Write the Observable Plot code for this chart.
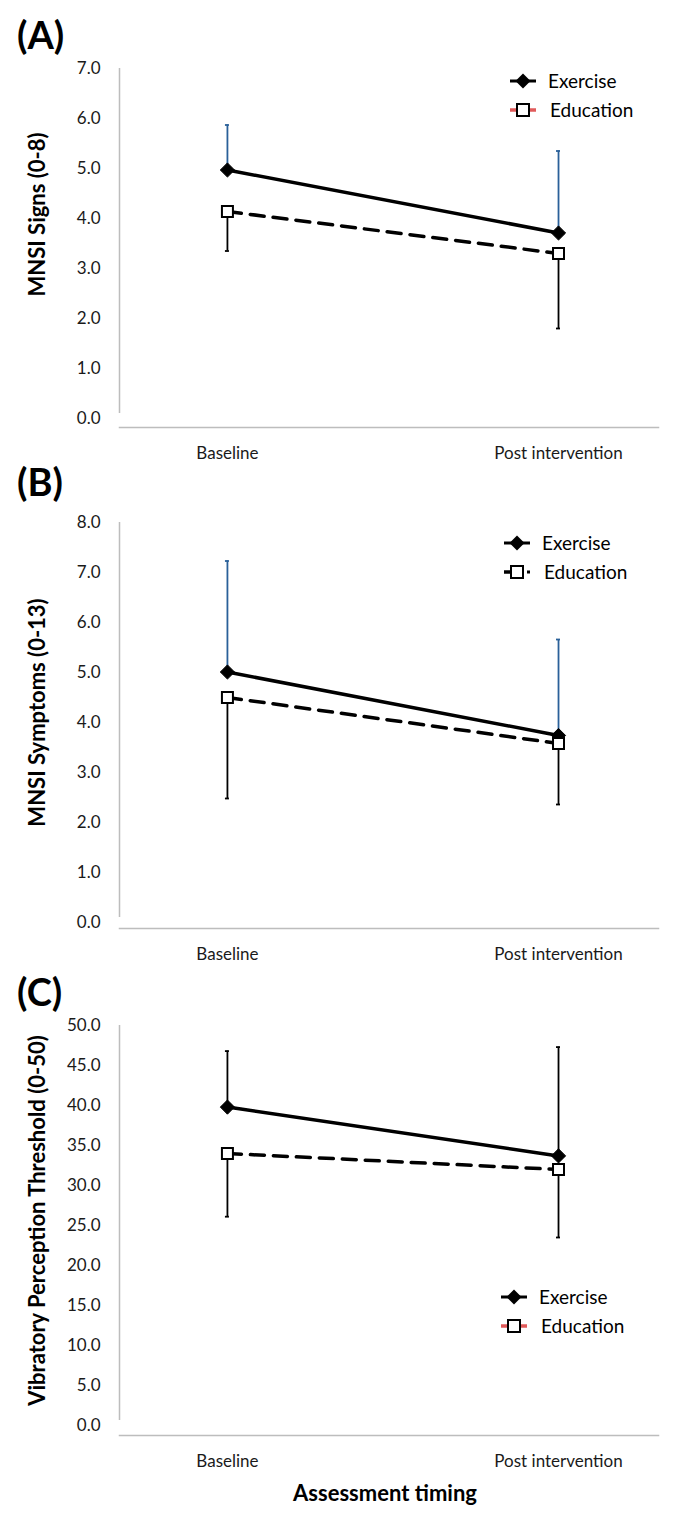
<!DOCTYPE html>
<html><head><meta charset="utf-8">
<script src="https://cdn.jsdelivr.net/npm/d3@7"></script>
<script src="https://cdn.jsdelivr.net/npm/@observablehq/plot@0.6"></script>
<style>
body{margin:0;background:#fff;font-family:Lato,"Open Sans",sans-serif;}
#wrap{position:relative;width:678px;height:1519px;overflow:hidden;}
.panel{position:absolute;left:0;}
.plabel{position:absolute;left:17px;font-weight:bold;font-size:38px;line-height:1;color:#000;}
.legend{position:absolute;font-size:19px;color:#000;}
.legend .item{position:absolute;left:0;white-space:nowrap;height:20px;}
.legend svg{position:absolute;left:0;top:0;}
.legend span{position:absolute;top:0;line-height:20px;}
g[aria-label="y-axis label"] text{font-weight:bold;font-size:22px;fill:#000;}
#xtitle{position:absolute;top:1479px;left:0;width:770px;text-align:center;font-weight:bold;font-size:22px;}
</style></head>
<body><div id="wrap"></div>
<script>
const categories = ["Baseline", "Post intervention"];
const groups = ["Exercise", "Education"];

// Panel A: MNSI Signs
const signsExerciseMean = [4.97, 3.71];
const signsExerciseSD = [0.90, 1.64];
const signsEducationMean = [4.14, 3.30];
const signsEducationSD = [0.79, 1.50];
const signsTicks = [0, 1, 2, 3, 4, 5, 6, 7];

// Panel B: MNSI Symptoms
const symptomsExerciseMean = [5.01, 3.74];
const symptomsExerciseSD = [2.22, 1.92];
const symptomsEducationMean = [4.50, 3.58];
const symptomsEducationSD = [2.02, 1.22];
const symptomsTicks = [0, 1, 2, 3, 4, 5, 6, 7, 8];

// Panel C: Vibratory Perception Threshold
const vptExerciseMean = [39.8, 33.7];
const vptExerciseSD = [7.0, 13.6];
const vptEducationMean = [34.0, 32.0];
const vptEducationSD = [7.9, 8.5];
const vptTicks = [0, 5, 10, 15, 20, 25, 30, 35, 40, 45, 50];

const xMin = -0.326, xMax = 1.302;

function rows(mean, sd) {
  return categories.map((c, i) => ({i, cat: c, mean: mean[i], sd: sd[i]}));
}

function panel(cfg) {
  const ex = rows(cfg.exMean, cfg.exSD);
  const ed = rows(cfg.edMean, cfg.edSD);
  const ymax = cfg.ticks[cfg.ticks.length - 1];
  return Plot.plot({
    width: 678,
    height: cfg.height,
    marginLeft: 119,
    marginRight: 20,
    marginTop: cfg.mt,
    marginBottom: cfg.mb,
    style: {fontFamily: "Lato, 'Open Sans', sans-serif", fontSize: "17px", color: "#1a1a1a", background: "white"},
    x: {domain: [xMin, xMax]},
    y: {domain: [0, ymax], range: cfg.yRange},
    marks: [
      Plot.frame({anchor: "bottom", stroke: "#bdbdbd", strokeWidth: 1.5}),
      Plot.ruleX([xMin], {y1: 0, y2: ymax, stroke: "#bdbdbd", strokeWidth: 1.5, insetTop: -5}),
      Plot.axisY({ticks: cfg.ticks, tickSize: 0, tickPadding: 19, tickFormat: d => d.toFixed(1),
        label: cfg.ylabel, labelAnchor: "center", labelOffset: cfg.labelOffset, labelArrow: "none"}),
      Plot.axisX({ticks: [0, 1], tickSize: 0, tickPadding: 19, tickFormat: i => categories[i], label: null}),
      // error bars
      Plot.ruleX(ex, {x: "i", y1: "mean", y2: d => d.mean + d.sd, stroke: cfg.errColor, strokeWidth: 1.8}),
      Plot.ruleY(ex, {y: d => d.mean + d.sd, x1: "i", x2: "i", insetLeft: -2, insetRight: -2, stroke: cfg.errColor, strokeWidth: 1.8}),
      Plot.ruleX(ed, {x: "i", y1: d => d.mean - d.sd, y2: "mean", stroke: "black", strokeWidth: 1.8}),
      Plot.ruleY(ed, {y: d => d.mean - d.sd, x1: "i", x2: "i", insetLeft: -2, insetRight: -2, stroke: "black", strokeWidth: 1.8}),
      // lines
      Plot.line(ex, {x: "i", y: "mean", stroke: "black", strokeWidth: 3.5}),
      Plot.dot(ex, {x: "i", y: "mean", symbol: "diamond2", r: 6.4, fill: "black", stroke: "black", strokeWidth: 1}),
      Plot.line(ed, {x: "i", y: "mean", stroke: "black", strokeWidth: 3.5, strokeDasharray: "14,9"}),
      Plot.dot(ed, {x: "i", y: "mean", symbol: "square", r: 6.2, fill: "white", stroke: "black", strokeWidth: 2})
    ]
  });
}

const panels = [
  {key: "A", top: 0, height: 480, mt: 1, mb: 53, yRange: [418, 68], ticks: signsTicks,
   exMean: signsExerciseMean, exSD: signsExerciseSD, edMean: signsEducationMean, edSD: signsEducationSD,
   ylabel: "MNSI Signs (0-8)", labelOffset: 90, errColor: "#2a6099", labelTop: 15,
   legend: {top: 71, left: 509, edStyle: "red"}},
  {key: "B", top: 490, height: 490, mt: 6, mb: 52, yRange: [432, 32], ticks: symptomsTicks,
   exMean: symptomsExerciseMean, exSD: symptomsExerciseSD, edMean: symptomsEducationMean, edSD: symptomsEducationSD,
   ylabel: "MNSI Symptoms (0-13)", labelOffset: 90, errColor: "#2a6099", labelTop: 462,
   legend: {top: 533, left: 503, edStyle: "dot"}},
  {key: "C", top: 980, height: 500, mt: 25, mb: 45, yRange: [445, 45], ticks: vptTicks,
   exMean: vptExerciseMean, exSD: vptExerciseSD, edMean: vptEducationMean, edSD: vptEducationSD,
   ylabel: "Vibratory Perception Threshold (0-50)", labelOffset: 90, errColor: "black", labelTop: 972,
   legend: {top: 1287, left: 500, edStyle: "red"}}
];

const wrap = document.getElementById("wrap");

function swatch(kind, edStyle) {
  const ns = "http://www.w3.org/2000/svg";
  const svg = document.createElementNS(ns, "svg");
  svg.setAttribute("width", 34); svg.setAttribute("height", 20);
  if (kind === "Exercise") {
    svg.innerHTML = '<line x1="1" x2="27" y1="10" y2="10" stroke="black" stroke-width="3"/>' +
      '<path d="M14,2.5 L21.5,10 L14,17.5 L6.5,10 Z" fill="black"/>';
  } else if (edStyle === "red") {
    svg.innerHTML = '<line x1="1" x2="27" y1="10" y2="10" stroke="#e05a5a" stroke-width="3.5"/>' +
      '<rect x="8" y="4" width="12" height="12" fill="white" stroke="black" stroke-width="2"/>';
  } else {
    svg.innerHTML = '<line x1="1" x2="8" y1="10" y2="10" stroke="black" stroke-width="3.5"/>' +
      '<rect x="8" y="4" width="12" height="12" fill="white" stroke="black" stroke-width="2"/>' +
      '<rect x="24" y="8.5" width="3" height="3" fill="black"/>';
  }
  return svg;
}

for (const p of panels) {
  const div = document.createElement("div");
  div.className = "panel";
  div.style.top = p.top + "px";
  div.appendChild(panel(p));
  wrap.appendChild(div);

  const lab = document.createElement("div");
  lab.className = "plabel";
  lab.style.top = p.labelTop + "px";
  lab.textContent = "(" + p.key + ")";
  wrap.appendChild(lab);

  const leg = document.createElement("div");
  leg.className = "legend";
  leg.style.top = p.legend.top + "px";
  leg.style.left = p.legend.left + "px";
  groups.forEach((g, k) => {
    const it = document.createElement("div");
    it.className = "item";
    it.style.top = (k * 29) + "px";
    it.appendChild(swatch(g, p.legend.edStyle));
    const s = document.createElement("span");
    s.style.left = (g === "Exercise" ? 39 : 41) + "px";
    s.textContent = g;
    it.appendChild(s);
    leg.appendChild(it);
  });
  wrap.appendChild(leg);
}

const xt = document.createElement("div");
xt.id = "xtitle";
xt.textContent = "Assessment timing";
wrap.appendChild(xt);
</script>
</body></html>
